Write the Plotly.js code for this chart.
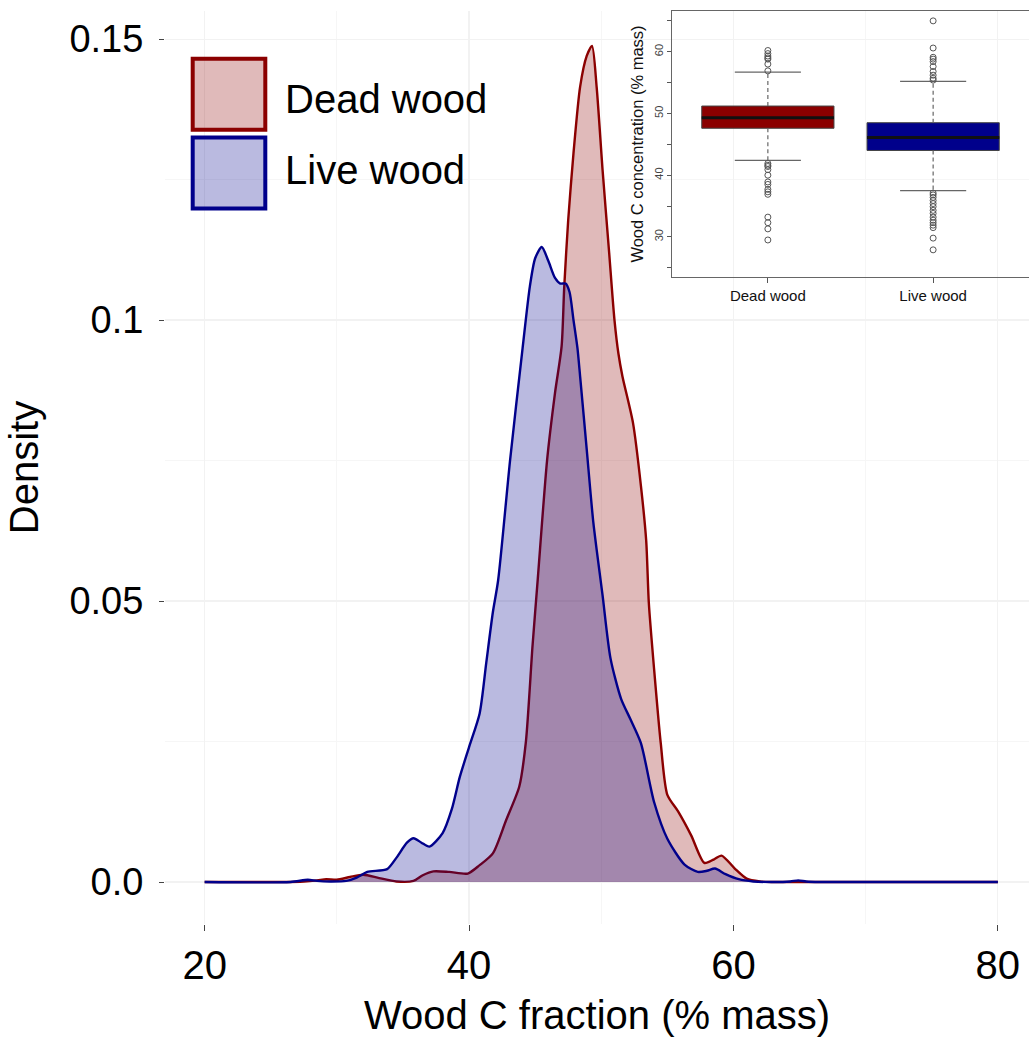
<!DOCTYPE html>
<html>
<head>
<meta charset="utf-8">
<script src="https://cdn.plot.ly/plotly-3.0.1.min.js"></script>
<style>html,body{margin:0;padding:0;background:#fff;}#chart{width:1029px;height:1040px;}</style>
</head>
<body>
<div id="chart"></div>
<script>
// ---------------- data ----------------
const seriesNames = ['Dead wood', 'Live wood'];

// Density curve, dead wood
const deadX = [20, 26, 27.5, 28.5, 29.2, 30, 31, 32, 33.2, 34.5, 35.8, 36.5, 37.3, 38.5, 39.9, 40.8, 41.8, 42.8, 43.8, 44.3, 44.8, 45.2, 45.9, 46.5, 47.0, 47.2, 47.5, 47.9, 48.4, 48.9, 49.3, 49.65, 50.1, 50.6, 51.0, 51.3, 51.6, 52.4, 53.0, 53.4, 53.6, 54.0, 54.5, 55.0, 55.8, 56.8, 57.8, 58.5, 59.1, 60.1, 61.0, 62, 63, 80];
const deadY = [0, 0, 0.0001, 0.0003, 0.0005, 0.0004, 0.0009, 0.0013, 0.0007, 0.0001, 0.0002, 0.0012, 0.0019, 0.0018, 0.0015, 0.003, 0.0051, 0.011, 0.017, 0.025, 0.042, 0.054, 0.075, 0.087, 0.0953, 0.1059, 0.1178, 0.1297, 0.1415, 0.147, 0.1488, 0.1415, 0.1267, 0.1119, 0.1, 0.094, 0.090, 0.0817, 0.0705, 0.0607, 0.0496, 0.0378, 0.0247, 0.0155, 0.0126, 0.0083, 0.0034, 0.0040, 0.0047, 0.0024, 0.0006, 0.0001, 0, 0];

// Density curve, live wood
const liveX = [20, 26.5, 27.8, 28.5, 29.5, 30.7, 31.5, 32.3, 33.8, 34.5, 35.3, 35.8, 36.4, 37.0, 38.0, 38.7, 39.3, 40.0, 40.8, 41.3, 41.8, 42.2, 43.1, 44.05, 44.6, 45.0, 45.5, 46.0, 46.5, 46.9, 47.3, 47.6, 47.9, 48.2, 48.4, 48.9, 49.4, 50.1, 50.7, 51.5, 52.2, 53.0, 54.0, 55.0, 56.3, 57.3, 58.0, 58.6, 59.4, 60.4, 61.5, 63, 64.3, 64.9, 65.5, 66.5, 80];
const liveY = [0, 0, 0.0004, 0.0002, 0.0001, 0.0002, 0.0008, 0.0018, 0.0023, 0.0043, 0.0070, 0.0078, 0.0070, 0.0063, 0.0087, 0.013, 0.0187, 0.024, 0.030, 0.039, 0.048, 0.0537, 0.075, 0.095, 0.106, 0.111, 0.113, 0.1105, 0.1075, 0.1065, 0.1065, 0.105, 0.100, 0.095, 0.090, 0.077, 0.064, 0.051, 0.0398, 0.0326, 0.029, 0.0247, 0.0142, 0.0077, 0.0031, 0.0018, 0.0020, 0.0024, 0.0014, 0.0005, 0.0001, 0, 0.0001, 0.0003, 0.0001, 0, 0];

// Main axis ticks
const xTickVals = [20, 40, 60, 80];
const xMinorVals = [30, 50, 70];
const yTickVals = [0, 0.05, 0.1, 0.15];
const yTickText = ['0.0', '0.05', '0.1', '0.15'];
const yMinorVals = [0.025, 0.075, 0.125];

// Inset boxplot statistics
const boxPositions = [1, 2];
const boxCategories = ['Dead wood', 'Live wood'];
const boxQ1 = [47.6, 44.0];
const boxMedian = [49.3, 46.1];
const boxQ3 = [51.2, 48.5];
const whiskerLow = [42.4, 37.5];
const whiskerHigh = [56.7, 55.2];
const deadOutliers = [60.2, 59.7, 59.3, 59.0, 58.8, 58.0, 56.9, 41.9, 41.6, 41.4, 40.9, 40.0, 38.9, 38.5, 37.7, 37.3, 36.9, 33.2, 32.3, 31.3, 29.5];
const liveOutliers = [65.0, 60.6, 59.1, 58.8, 58.4, 57.6, 56.8, 56.2, 55.7, 55.4, 37.1, 36.8, 36.4, 35.9, 35.4, 34.9, 34.3, 33.8, 33.2, 32.7, 32.3, 31.9, 31.5, 29.8, 27.9];
const insetYTickVals = [25, 30, 35, 40, 45, 50, 55, 60, 65];
const insetYTickText = ['', '30', '', '40', '', '50', '', '60', ''];

// ---------------- styling ----------------
const FONT = 'Liberation Sans, Arial, Helvetica, sans-serif';
const lineColors = ['#8B0000', '#00008B'];
const fillColors = ['rgba(139,0,0,0.27)', 'rgba(0,0,139,0.27)'];
const boxFill = ['#8B0000', '#00008B'];
const BOX_WIDTH = 0.8;

const W = 1029, H = 1040;
const M = {l: 165, r: 0, t: 11, b: 116};
const pw = W - M.l - M.r, ph = H - M.t - M.b;
const px2x = p => (p - M.l) / pw;
const px2y = p => (H - M.b - p) / ph;

const traces = [];
const densX = [deadX, liveX], densY = [deadY, liveY];
for (let i = 0; i < 2; i++) {
  traces.push({
    type: 'scatter', mode: 'lines', name: seriesNames[i],
    x: densX[i], y: densY[i],
    line: {color: lineColors[i], width: 2.4, shape: 'spline', smoothing: 0.7},
    fill: 'tozeroy', fillcolor: fillColors[i],
    showlegend: false, hoverinfo: 'skip'
  });
}

// inset: boxes
const outliers = [deadOutliers, liveOutliers];
for (let i = 0; i < 2; i++) {
  const p = boxPositions[i];
  traces.push({
    type: 'scatter', mode: 'lines', xaxis: 'x2', yaxis: 'y2', showlegend: false, hoverinfo: 'skip',
    x: [p, p, null, p, p], y: [boxQ3[i], whiskerHigh[i], null, boxQ1[i], whiskerLow[i]],
    line: {color: '#666', width: 1.2, dash: '4px,3px'}
  });
  const hw = BOX_WIDTH / 4;
  traces.push({
    type: 'scatter', mode: 'lines', xaxis: 'x2', yaxis: 'y2', showlegend: false, hoverinfo: 'skip',
    x: [p - hw, p + hw, null, p - hw, p + hw], y: [whiskerHigh[i], whiskerHigh[i], null, whiskerLow[i], whiskerLow[i]],
    line: {color: '#666', width: 1.3}
  });
  traces.push({
    type: 'box', xaxis: 'x2', yaxis: 'y2', showlegend: false, hoverinfo: 'skip',
    x: [p], q1: [boxQ1[i]], median: [boxMedian[i]], q3: [boxQ3[i]],
    lowerfence: [boxQ1[i]], upperfence: [boxQ3[i]],
    width: BOX_WIDTH, whiskerwidth: 0, boxpoints: false,
    fillcolor: boxFill[i], line: {color: '#444', width: 1}
  });
  traces.push({
    type: 'scatter', mode: 'lines', xaxis: 'x2', yaxis: 'y2', showlegend: false, hoverinfo: 'skip',
    x: [p - BOX_WIDTH / 2, p + BOX_WIDTH / 2], y: [boxMedian[i], boxMedian[i]],
    line: {color: '#111', width: 3}
  });
  traces.push({
    type: 'scatter', mode: 'markers', xaxis: 'x2', yaxis: 'y2', showlegend: false, hoverinfo: 'skip',
    x: outliers[i].map(() => p), y: outliers[i],
    marker: {symbol: 'circle-open', size: 6, color: '#555', line: {width: 1}}
  });
}

// custom legend (large keys)
const shapes = [];
const annotations = [];
const keyTop = [58.7, 137.5];
const keyH = 71;
const labelCenter = [99, 170];
for (let i = 0; i < 2; i++) {
  shapes.push({
    type: 'rect', xref: 'paper', yref: 'paper',
    x0: px2x(192.7), x1: px2x(265.3), y0: px2y(keyTop[i] + keyH), y1: px2y(keyTop[i]),
    fillcolor: fillColors[i], line: {color: lineColors[i], width: 4}
  });
  annotations.push({
    xref: 'paper', yref: 'paper', x: px2x(283), y: px2y(labelCenter[i]),
    xanchor: 'left', yanchor: 'middle', showarrow: false,
    text: seriesNames[i], font: {family: FONT, size: 40, color: '#000'}
  });
}

const layout = {
  width: W, height: H,
  margin: {l: M.l, r: M.r, t: M.t, b: M.b, autoexpand: false},
  paper_bgcolor: '#fff', plot_bgcolor: 'rgba(0,0,0,0)',
  font: {family: FONT, color: '#000'},
  showlegend: false,
  xaxis: {
    range: [17, 17 + pw / 13.22], automargin: false,
    tickmode: 'array', tickvals: xTickVals, ticktext: xTickVals.map(String),
    tickfont: {size: 40, family: FONT, color: '#000'},
    ticks: 'outside', ticklen: 6, tickwidth: 1, tickcolor: '#444',
    ticklabelstandoff: 0,
    showgrid: true, gridcolor: '#f2f2f2', gridwidth: 1.2,
    minor: {tickmode: 'array', tickvals: xMinorVals, showgrid: true, gridcolor: '#f6f6f6', gridwidth: 1, ticks: ''},
    zeroline: false, showline: false,
    title: {text: 'Wood C fraction (% mass)', font: {size: 40, family: FONT, color: '#000'}, standoff: 14}
  },
  yaxis: {
    range: [-0.00747, 0.155], automargin: false,
    tickmode: 'array', tickvals: yTickVals, ticktext: yTickText,
    tickfont: {size: 38, family: FONT, color: '#000'},
    ticks: 'outside', ticklen: 5, tickwidth: 1, tickcolor: '#444',
    ticklabelstandoff: 8,
    showgrid: true, gridcolor: '#f2f2f2', gridwidth: 1.2,
    minor: {tickmode: 'array', tickvals: yMinorVals, showgrid: true, gridcolor: '#f6f6f6', gridwidth: 1, ticks: ''},
    zeroline: false, showline: false,
    title: {text: 'Density', font: {size: 40, family: FONT, color: '#000'}, standoff: 18}
  },
  xaxis2: {
    domain: [px2x(672), 1], anchor: 'y2', range: [0.42, 2.58], automargin: false,
    tickmode: 'array', tickvals: boxPositions, ticktext: boxCategories,
    tickfont: {size: 15, family: FONT, color: '#111'},
    ticks: 'outside', ticklen: 5, tickcolor: '#555',
    showline: true, mirror: true, linecolor: '#666', linewidth: 1,
    showgrid: false, zeroline: false
  },
  yaxis2: {
    domain: [px2y(277), 1], anchor: 'x2', range: [23.5, 66.6], automargin: false,
    tickmode: 'array', tickvals: insetYTickVals, ticktext: insetYTickText,
    tickangle: -90,
    tickfont: {size: 11, family: FONT, color: '#444'},
    ticks: 'outside', ticklen: 4, tickcolor: '#555',
    showline: true, mirror: false, linecolor: '#666', linewidth: 1,
    showgrid: false, zeroline: false,
    title: {text: 'Wood C concentration (% mass)', font: {size: 16.5, family: FONT, color: '#111'}, standoff: 4}
  },
  shapes: shapes,
  annotations: annotations
};

Plotly.newPlot('chart', traces, layout, {staticPlot: true, displayModeBar: false});
</script>
</body>
</html>
